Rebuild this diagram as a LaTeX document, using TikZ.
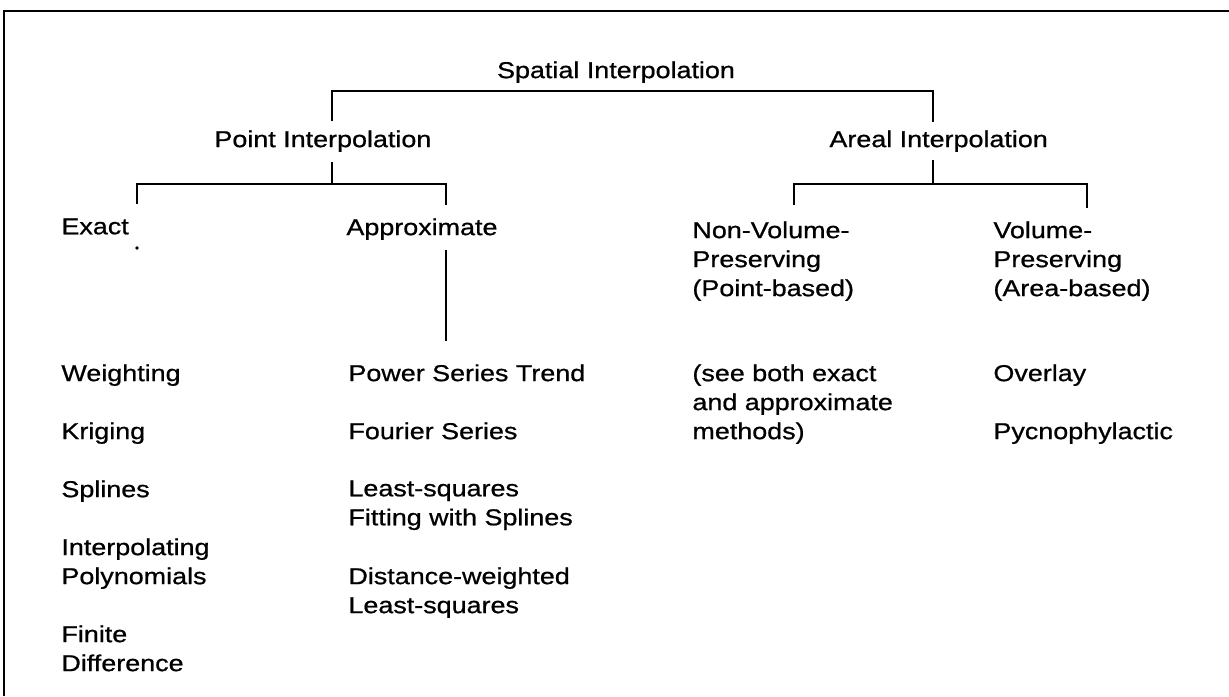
\documentclass[tikz,border=0pt]{standalone}
\usepackage{fontspec}
\setmainfont{Liberation Sans}[FakeStretch=1.17, FakeBold=0.8]
\usetikzlibrary{positioning}

\begin{document}
\begin{tikzpicture}[
        x=0.5pt, y=-0.5pt, line width=1.45pt,
        every node/.style={inner sep=0pt, anchor=north west, align=left,
          font=\fontsize{11.5pt}{14.5pt}\selectfont},
        frame/.style={line width=1pt},
        ]
        \useasboundingbox (0,0) rectangle (1229,696);
        \draw[frame] (4,696) -- (4,11) -- (1229,11);

        % headings
        \node[anchor=north] (spatial) at (616,60)  {Spatial Interpolation};
        \node (point)   at (213,129) {Point Interpolation};
        \node (areal)   at (828,129) {Areal Interpolation};
        \node (exact)   at (60,217)  {Exact};
        \node (approx)  at (345,217) {Approximate};
        \node (nonvol)  at (691,220) {Non-Volume-\\Preserving\\(Point-based)};
        \node (vol)     at (992,220) {Volume-\\Preserving\\(Area-based)};

        % methods
        \node (weight)  at (60,363)  {Weighting};
        \node (krig)    at (60,421)  {Kriging};
        \node (spline)  at (60,479)  {Splines};
        \node (poly)    at (60,537)  {Interpolating\\Polynomials};
        \node (finite)  at (60,624)  {Finite\\Difference};
        \node (power)   at (347,363) {Power Series Trend};
        \node (fourier) at (347,421) {Fourier Series};
        \node (lsq)     at (347,479) {Least-squares\\Fitting with Splines};
        \node (dist)    at (347,566) {Distance-weighted\\Least-squares};
        \node (see)     at (691,363) {(see both exact\\and approximate\\methods)};
        \node (overlay) at (992,363) {Overlay};
        \node (pycno)   at (992,421) {Pycnophylactic};

        % brackets
        \coordinate (j0) at (616,91);
        \coordinate (p-leg) at (332,121);
        \coordinate (a-leg) at (933,122);
        \draw[shorten <=3pt] (spatial.south) -- (j0);
        \draw (p-leg) |- (j0) -| (a-leg);

        \coordinate (j1) at (332,184);
        \coordinate (e-leg) at (137,204);
        \coordinate (x-leg) at (446,205);
        \draw[shorten <=4.5pt] (point.south -| j1) -- (j1);
        \draw (e-leg) |- (j1) -| (x-leg);
        \coordinate (e-dot) at (137,248);
        \fill (e-dot) circle (1.8);
        \draw[shorten <=4.5pt, shorten >=11pt] (approx.south -| x-leg) -- (power.north -| x-leg);

        \coordinate (j2) at (933,184);
        \coordinate (n-leg) at (794,205);
        \coordinate (v-leg) at (1087,208);
        \draw[shorten <=3.5pt] (areal.south -| j2) -- (j2);
        \draw (n-leg) |- (j2) -| (v-leg);
      \end{tikzpicture}
\end{document}
